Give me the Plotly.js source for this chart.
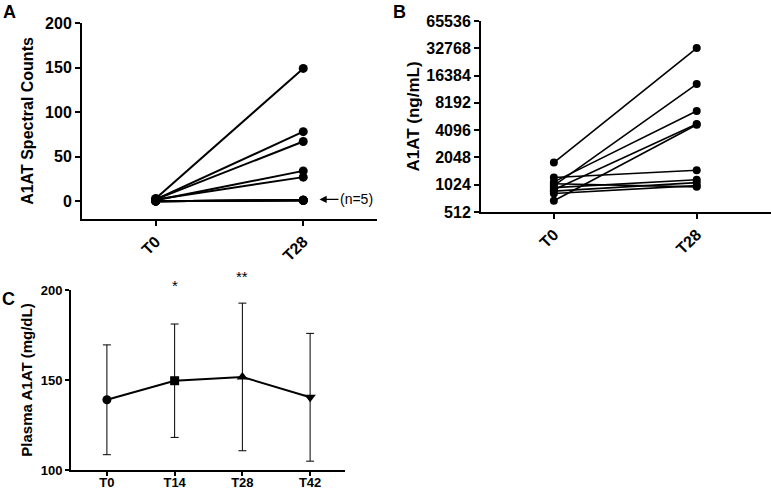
<!DOCTYPE html>
<html>
<head>
<meta charset="utf-8">
<script src="https://cdn.plot.ly/plotly-3.0.1.min.js"></script>
<style>
  html, body { margin: 0; padding: 0; background: #fff; }
  #chart { width: 771px; height: 490px; }
</style>
</head>
<body>
<div id="chart"></div>
<script>
// paired samples, one entry per subject
const pairCats = ["T0", "T28"];
const spectralT0 = [3, 2, 2, 1, 2, 0, 0, 0, 0, 0];
const spectralT28 = [149, 78, 67, 34, 27, 1, 1, 1, 1, 1];
const spectralTicks = [0, 50, 100, 150, 200];

const elisaT0 = [1800, 1000, 1100, 900, 680, 1230, 950, 870, 820, 1050];
const elisaT28 = [33000, 13200, 6650, 4800, 4700, 1480, 1160, 1080, 1000, 970];
const log2Ticks = [512, 1024, 2048, 4096, 8192, 16384, 32768, 65536];

// plasma time course, mean and sd
const timeCats = ["T0", "T14", "T28", "T42"];
const plasmaMean = [139, 149.6, 151.7, 140.4];
const plasmaSD = [30.5, 31.5, 41, 35.5];
const plasmaSymbols = ["circle", "square", "triangle-up", "triangle-down"];
const plasmaTicks = [100, 150, 200];

const W = 771, H = 490;
const px = (x) => x / W;
const py = (y) => 1 - y / H;
const b = (arr) => arr.map((v) => "<b>" + v + "</b>");

const fam = "Liberation Sans, Arial, sans-serif";
const bold = { family: fam, color: "#000", weight: "bold" };
const plain = { family: fam, color: "#000" };

const traces = [];
for (let i = 0; i < spectralT0.length; i++) {
  traces.push({
    x: pairCats, y: [spectralT0[i], spectralT28[i]],
    xaxis: "x", yaxis: "y",
    mode: "lines+markers",
    line: { color: "#000", width: 2 },
    marker: { color: "#000", size: 9 },
    showlegend: false, cliponaxis: false,
  });
}
for (let i = 0; i < elisaT0.length; i++) {
  traces.push({
    x: pairCats, y: [elisaT0[i], elisaT28[i]],
    xaxis: "x2", yaxis: "y2",
    mode: "lines+markers",
    line: { color: "#000", width: 1.6 },
    marker: { color: "#000", size: 8 },
    showlegend: false, cliponaxis: false,
  });
}
traces.push({
  x: timeCats, y: plasmaMean,
  xaxis: "x3", yaxis: "y3",
  mode: "lines+markers",
  line: { color: "#000", width: 2 },
  marker: { color: "#000", opacity: 1, size: [9, 9, 10, 10], symbol: plasmaSymbols, line: { width: 0 } },
  error_y: { type: "data", array: plasmaSD, visible: true, color: "#000", thickness: 1, width: 4 },
  showlegend: false, cliponaxis: false,
});

const axisBase = {
  showgrid: false, zeroline: false, showline: true,
  linecolor: "#000", linewidth: 2,
  ticks: "outside", ticklen: 5, tickwidth: 2, tickcolor: "#000",
};

const layout = {
  width: W, height: H,
  margin: { l: 0, r: 0, t: 0, b: 0 },
  paper_bgcolor: "#fff", plot_bgcolor: "#fff",
  showlegend: false,
  xaxis: Object.assign({}, axisBase, {
    domain: [px(82), px(377)], anchor: "y",
    type: "category", range: [-0.5, 1.5],
    tickvals: pairCats, ticktext: b(pairCats),
    tickangle: -45, tickfont: Object.assign({ size: 16 }, bold),
  }),
  yaxis: Object.assign({}, axisBase, {
    domain: [py(219), py(23)], anchor: "x",
    range: [-20, 200], tickvals: spectralTicks, ticktext: b(spectralTicks),
    tickfont: Object.assign({ size: 16 }, bold),
    title: { text: "<b>A1AT Spectral Counts</b>", font: Object.assign({ size: 16 }, bold), standoff: 7 },
  }),
  xaxis2: Object.assign({}, axisBase, {
    domain: [px(481), 1], anchor: "y2",
    type: "category", range: [-0.51, 1.52],
    tickvals: pairCats, ticktext: b(pairCats),
    tickangle: -45, tickfont: Object.assign({ size: 16 }, bold),
  }),
  yaxis2: Object.assign({}, axisBase, {
    domain: [py(212), py(21)], anchor: "x2",
    type: "log", range: [Math.log10(512), Math.log10(65536)],
    tickvals: log2Ticks, ticktext: b(log2Ticks),
    tickfont: Object.assign({ size: 16 }, bold),
    title: { text: "<b>A1AT (ng/mL)</b>", font: Object.assign({ size: 17 }, bold), standoff: 2 },
  }),
  xaxis3: Object.assign({}, axisBase, {
    domain: [px(71), px(345)], anchor: "y3",
    type: "category", range: [-0.53, 3.515],
    tickvals: timeCats, ticktext: b(timeCats),
    ticklen: 4, ticklabelstandoff: -5,
    tickfont: Object.assign({ size: 13 }, bold),
  }),
  yaxis3: Object.assign({}, axisBase, {
    domain: [py(470), py(290)], anchor: "x3",
    range: [100, 200], tickvals: plasmaTicks, ticktext: b(plasmaTicks),
    ticklen: 4,
    tickfont: Object.assign({ size: 13 }, bold),
    title: { text: "<b>Plasma A1AT (mg/dL)</b>", font: Object.assign({ size: 15 }, bold), standoff: 4 },
  }),
  annotations: [
    { text: "<b>A</b>", xref: "paper", yref: "paper", x: px(1), y: py(0), xanchor: "left", yanchor: "top",
      showarrow: false, font: Object.assign({ size: 18 }, bold) },
    { text: "<b>B</b>", xref: "paper", yref: "paper", x: px(391), y: py(0), xanchor: "left", yanchor: "top",
      showarrow: false, font: Object.assign({ size: 18 }, bold) },
    { text: "<b>C</b>", xref: "paper", yref: "paper", x: px(0), y: py(287), xanchor: "left", yanchor: "top",
      showarrow: false, font: Object.assign({ size: 18 }, bold) },
    { text: "(n=5)", xref: "x", yref: "y", x: 1.11, y: 2, ax: 37, ay: 0,
      showarrow: true, arrowhead: 2, arrowsize: 1.2, arrowwidth: 1.2, arrowcolor: "#000",
      font: Object.assign({ size: 14 }, plain) },
    { text: "*", xref: "x3", yref: "paper", x: "T14", y: py(285), showarrow: false,
      font: Object.assign({ size: 15 }, plain) },
    { text: "**", xref: "x3", yref: "paper", x: "T28", y: py(276), showarrow: false,
      font: Object.assign({ size: 15 }, plain) },
  ],
};

Plotly.newPlot("chart", traces, layout, { staticPlot: true });
</script>
</body>
</html>
